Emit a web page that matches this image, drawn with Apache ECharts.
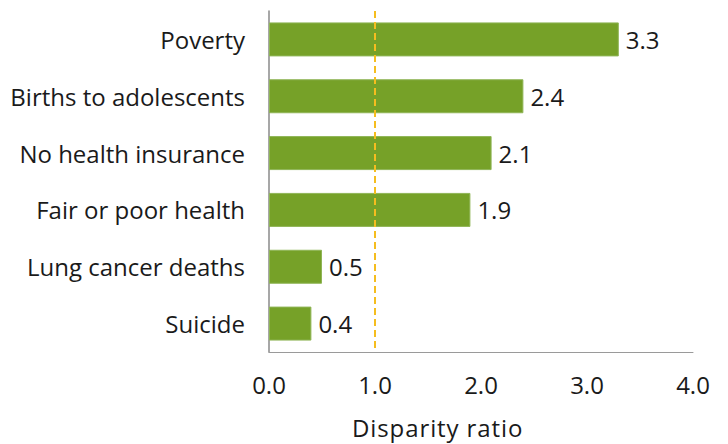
<!DOCTYPE html>
<html>
<head>
<meta charset="utf-8">
<script src="https://cdn.jsdelivr.net/npm/echarts@6/dist/echarts.min.js"></script>
<style>
  html, body { margin: 0; padding: 0; background: #fff; }
  #chart { width: 728px; height: 444px; }
</style>
</head>
<body>
<div id="chart"></div>
<script>
// Indicators, listed top to bottom
const categories = [
  'Poverty',
  'Births to adolescents',
  'No health insurance',
  'Fair or poor health',
  'Lung cancer deaths',
  'Suicide'
];
// Disparity ratio for each indicator
const ratios = [3.3, 2.4, 2.1, 1.9, 0.5, 0.4];
// Reference line: parity
const parity = 1.0;
const xTicks = [0, 1, 2, 3, 4];
const axisTitle = 'Disparity ratio';

const font = '"Open Sans", "Noto Sans", sans-serif';
const textColor = '#1a1a1a';

const chart = echarts.init(document.getElementById('chart'), null, { renderer: 'svg' });
chart.setOption({
  animation: false,
  grid: { left: 269, right: 35, top: 11, bottom: 92, containLabel: false },
  xAxis: {
    type: 'value',
    min: xTicks[0],
    max: xTicks[xTicks.length - 1],
    interval: 1,
    splitLine: { show: false },
    axisTick: { show: false },
    axisLine: { show: true, lineStyle: { color: '#9a9a9a', width: 1 } },
    axisLabel: {
      margin: 20,
      fontFamily: font,
      fontSize: 24,
      color: textColor,
      formatter: v => v.toFixed(1)
    }
  },
  yAxis: {
    type: 'category',
    data: categories,
    inverse: true,
    axisTick: { show: false },
    axisLine: { show: true, lineStyle: { color: '#8a8a8a', width: 1.5 } },
    axisLabel: {
      margin: 24,
      fontFamily: font,
      fontSize: 24,
      color: textColor
    }
  },
  graphic: [{
    type: 'text',
    left: 352,
    top: 415,
    style: {
      text: axisTitle,
      font: '24px ' + font,
      fill: textColor
    }
  }],
  series: [{
    type: 'bar',
    data: ratios,
    barWidth: 34,
    itemStyle: { color: '#76a128', borderColor: '#8fb556', borderWidth: 1 },
    label: {
      show: true,
      position: 'right',
      distance: 7,
      fontFamily: font,
      fontSize: 24,
      color: textColor,
      formatter: p => p.value.toFixed(1)
    },
    markLine: {
      silent: true,
      symbol: 'none',
      label: { show: false },
      lineStyle: { color: '#f5bd1f', type: [7, 4], width: 2 },
      data: [{ xAxis: parity }]
    }
  }]
});

// Give the axis title its wider tracking
document.querySelectorAll('#chart text').forEach(t => {
  if (t.textContent === axisTitle) t.setAttribute('letter-spacing', '0.9');
});
</script>
</body>
</html>
